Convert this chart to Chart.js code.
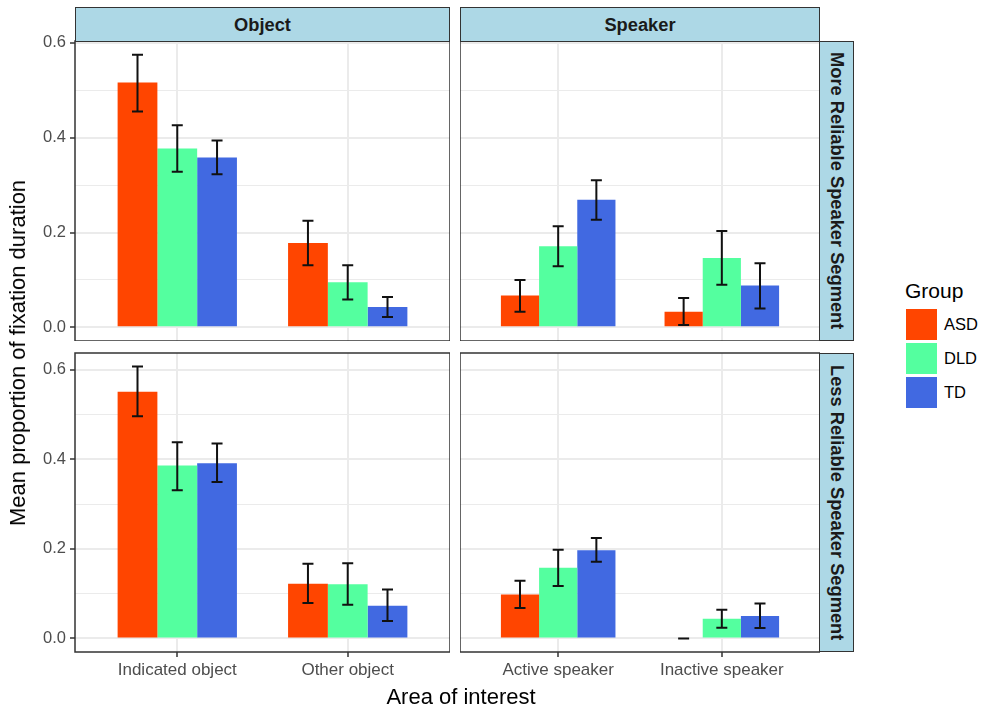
<!DOCTYPE html>
<html>
<head>
<meta charset="utf-8">
<script src="https://cdn.jsdelivr.net/npm/chart.js@4.4.1/dist/chart.umd.min.js"></script>
<style>
  body { margin: 0; background: #fff; font-family: "Liberation Sans", Arial, sans-serif; }
  #fig { position: relative; width: 985px; height: 709px; overflow: hidden; }
  .panel { position: absolute; }
  .strip { position: absolute; box-sizing: border-box; background: #ADD8E6; border: 1.5px solid #333;
           display: flex; align-items: center; justify-content: center;
           font-weight: bold; font-size: 18.3px; color: #1a1a1a; }
  .strip.side span { writing-mode: vertical-rl; }
  .title { position: absolute; font-size: 22px; color: #000; white-space: nowrap; }
  .legend-title { position: absolute; left: 905px; top: 279px; font-size: 21px; color: #000; }
  .key { position: absolute; left: 906px; width: 31px; height: 31px; }
  .key-label { position: absolute; left: 944px; font-size: 16.5px; color: #000; line-height: 20px; }
</style>
</head>
<body>
<div id="fig"></div>
<script>
const groups = ["ASD", "DLD", "TD"];
const groupColors = ["#FF4500", "#54FF9F", "#4169E1"];
const colLabels = ["Object", "Speaker"];
const rowLabels = ["More Reliable Speaker Segment", "Less Reliable Speaker Segment"];
const objectAreas = ["Indicated object", "Other object"];
const speakerAreas = ["Active speaker", "Inactive speaker"];
const yMajorTicks = [0, 0.2, 0.4, 0.6];
const yMinorTicks = [0.1, 0.3, 0.5];

// rows: ASD, DLD, TD; columns: the two areas of the panel
const moreObjectMean = [[0.516, 0.178], [0.377, 0.095], [0.358, 0.043]];
const moreObjectLow  = [[0.455, 0.131], [0.328, 0.059], [0.323, 0.022]];
const moreObjectHigh = [[0.575, 0.225], [0.426, 0.131], [0.394, 0.064]];

const moreSpeakerMean = [[0.067, 0.033], [0.171, 0.146], [0.269, 0.088]];
const moreSpeakerLow  = [[0.033, 0.005], [0.129, 0.090], [0.227, 0.040]];
const moreSpeakerHigh = [[0.100, 0.062], [0.213, 0.203], [0.310, 0.135]];

const lessObjectMean = [[0.551, 0.122], [0.386, 0.121], [0.391, 0.073]];
const lessObjectLow  = [[0.496, 0.079], [0.331, 0.075], [0.349, 0.039]];
const lessObjectHigh = [[0.607, 0.167], [0.438, 0.168], [0.435, 0.109]];

const lessSpeakerMean = [[0.098, 0], [0.158, 0.044], [0.197, 0.050]];
const lessSpeakerLow  = [[0.068, 0], [0.117, 0.024], [0.171, 0.023]];
const lessSpeakerHigh = [[0.129, 0], [0.198, 0.064], [0.224, 0.078]];

const panels = [
  { row: 0, col: 0, areas: objectAreas,  mean: moreObjectMean,  low: moreObjectLow,  high: moreObjectHigh },
  { row: 0, col: 1, areas: speakerAreas, mean: moreSpeakerMean, low: moreSpeakerLow, high: moreSpeakerHigh },
  { row: 1, col: 0, areas: objectAreas,  mean: lessObjectMean,  low: lessObjectLow,  high: lessObjectHigh },
  { row: 1, col: 1, areas: speakerAreas, mean: lessSpeakerMean, low: lessSpeakerLow, high: lessSpeakerHigh },
];

// panel boxes in page pixels
const colX = [[75, 450], [460, 820]];
const rowY = [[41, 341], [353, 652]];
const yAxisW = 75;
const xAxisH = 36;
const padTop = 10;

Chart.defaults.font.family = "'Liberation Sans', Arial, sans-serif";

const errorBars = {
  id: "errorBars",
  afterDatasetsDraw(chart, args, opts) {
    const ctx = chart.ctx;
    const y = chart.scales.y;
    ctx.save();
    ctx.strokeStyle = "#111";
    ctx.lineWidth = 2;
    chart.data.datasets.forEach((ds, i) => {
      chart.getDatasetMeta(i).data.forEach((bar, j) => {
        const lo = y.getPixelForValue(opts.low[i][j]);
        const hi = y.getPixelForValue(opts.high[i][j]);
        const hw = 5.5;
        ctx.beginPath();
        ctx.moveTo(bar.x, lo); ctx.lineTo(bar.x, hi);
        ctx.moveTo(bar.x - hw, lo); ctx.lineTo(bar.x + hw, lo);
        ctx.moveTo(bar.x - hw, hi); ctx.lineTo(bar.x + hw, hi);
        ctx.stroke();
      });
    });
    ctx.restore();
  }
};

const panelBorder = {
  id: "panelBorder",
  afterDraw(chart) {
    const a = chart.chartArea;
    const ctx = chart.ctx;
    ctx.save();
    ctx.strokeStyle = "#333";
    ctx.lineWidth = 1.5;
    ctx.strokeRect(a.left, a.top, a.right - a.left, a.bottom - a.top);
    ctx.restore();
  }
};

const fig = document.getElementById("fig");

function rowLimits(row) {
  const rowPanels = panels.filter(p => p.row === row);
  const top = Math.max(...rowPanels.flatMap(p => p.high.flat()));
  return [-0.05 * top, 1.05 * top];
}

panels.forEach(p => {
  const left = p.col === 0 ? 0 : colX[p.col][0];
  const width = colX[p.col][1] - left;
  const top = rowY[p.row][0] - padTop;
  const height = rowY[p.row][1] - rowY[p.row][0] + padTop + (p.row === 1 ? xAxisH : 0);
  const wrap = document.createElement("div");
  wrap.className = "panel";
  wrap.style.cssText = `left:${left}px;top:${top}px;width:${width}px;height:${height}px`;
  const cv = document.createElement("canvas");
  cv.width = width; cv.height = height;
  cv.style.width = width + "px"; cv.style.height = height + "px";
  wrap.appendChild(cv);
  fig.appendChild(wrap);

  const [yMin, yMax] = rowLimits(p.row);
  const showY = p.col === 0;
  const showX = p.row === 1;
  const isMajor = v => yMajorTicks.some(t => Math.abs(t - v) < 1e-9);

  new Chart(cv, {
    type: "bar",
    data: {
      datasets: groups.map((g, i) => ({
        label: g,
        data: p.areas.map((a, j) => ({ x: j + 1, y: p.mean[i][j] })),
        backgroundColor: groupColors[i],
        borderWidth: 0,
        categoryPercentage: 0.7,
        barPercentage: 1.0,
      })),
    },
    options: {
      responsive: false,
      animation: false,
      events: [],
      layout: { padding: { top: padTop, left: 0, right: 0, bottom: 0 } },
      scales: {
        x: {
          type: "linear",
          min: 0.4, max: 2.6,
          offset: false,
          border: { display: false },
          grid: { offset: false, color: "#EBEBEB", lineWidth: 2, drawTicks: showX, tickLength: 5, tickColor: "#333", tickWidth: 1.5 },
          ticks: { display: showX, color: "#4D4D4D", font: { size: 17 }, padding: 3, maxRotation: 0,
                   callback: v => p.areas[Math.round(v) - 1] },
          afterBuildTicks: s => { s.ticks = p.areas.map((a, j) => ({ value: j + 1 })); },
          afterFit: s => { s.height = showX ? xAxisH : 0; s.paddingLeft = 0; s.paddingRight = 0; },
        },
        y: {
          type: "linear",
          min: yMin, max: yMax,
          border: { display: false },
          grid: {
            color: "#EBEBEB",
            lineWidth: c => isMajor(c.tick.value) ? 2 : 1,
            drawTicks: showY, tickLength: 5,
            tickColor: c => isMajor(c.tick.value) ? "#333" : "rgba(0,0,0,0)",
            tickWidth: 1.5,
          },
          ticks: { display: showY, color: "#4D4D4D", font: { size: 16.5 }, padding: 4,
                   callback: v => isMajor(v) ? v.toFixed(1) : "" },
          afterBuildTicks: s => {
            s.ticks = [...yMajorTicks, ...yMinorTicks].sort((a, b) => a - b).map(v => ({ value: v }));
          },
          afterFit: s => { s.width = showY ? yAxisW : 0; s.paddingTop = 0; s.paddingBottom = 0; },
        },
      },
      plugins: {
        legend: { display: false },
        tooltip: { enabled: false },
        errorBars: { low: p.low, high: p.high },
      },
    },
    plugins: [errorBars, panelBorder],
  });
});

// facet strips
colLabels.forEach((lab, c) => {
  const d = document.createElement("div");
  d.className = "strip";
  d.style.cssText = `left:${colX[c][0]}px;top:7px;width:${colX[c][1] - colX[c][0]}px;height:35px`;
  d.textContent = lab;
  fig.appendChild(d);
});
rowLabels.forEach((lab, r) => {
  const d = document.createElement("div");
  d.className = "strip side";
  d.style.cssText = `left:819px;top:${rowY[r][0]}px;width:35px;height:${rowY[r][1] - rowY[r][0]}px`;
  d.innerHTML = `<span>${lab}</span>`;
  fig.appendChild(d);
});

// axis titles
const yt = document.createElement("div");
yt.className = "title";
yt.textContent = "Mean proportion of fixation duration";
yt.style.cssText = "left:18px;top:353px;transform:translate(-50%,-50%) rotate(-90deg)";
fig.appendChild(yt);
const xt = document.createElement("div");
xt.className = "title";
xt.textContent = "Area of interest";
xt.style.cssText = "left:461px;top:697px;transform:translate(-50%,-50%)";
fig.appendChild(xt);

// legend
const lt = document.createElement("div");
lt.className = "legend-title";
lt.textContent = "Group";
fig.appendChild(lt);
groups.forEach((g, i) => {
  const k = document.createElement("div");
  k.className = "key";
  k.style.top = (309 + i * 34) + "px";
  k.style.background = groupColors[i];
  fig.appendChild(k);
  const l = document.createElement("div");
  l.className = "key-label";
  l.style.top = (309 + i * 34 + 5) + "px";
  l.textContent = g;
  fig.appendChild(l);
});
</script>
</body>
</html>
